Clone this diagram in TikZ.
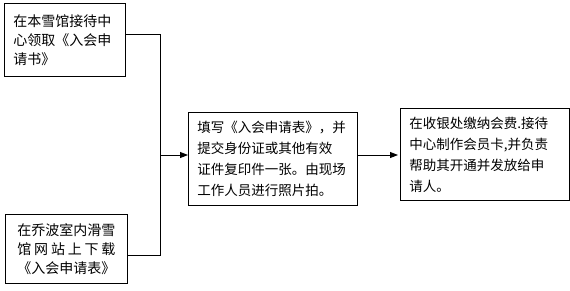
\documentclass[tikz,border=0pt]{standalone}
\usepackage{fontspec}
\usepackage{tikz}
\usetikzlibrary{positioning,calc}
\usetikzlibrary{arrows.meta}
\newfontfamily\cjk{Noto Sans CJK SC}
\tikzset{
	stepbox/.style={draw=black,line width=0.9pt,fill=white,anchor=north west,
		inner sep=0pt,align=left,font=\cjk\fontsize{14}{19}\selectfont},
	link/.style={draw=black,line width=0.9pt},
	arr/.style={link,-{Triangle[length=8pt,width=6pt]}},
}
\begin{document}
\begin{tikzpicture}[x=1pt,y=-1pt]
	\useasboundingbox (0,0) rectangle (570,290);
	\node[stepbox,minimum width=121pt,minimum height=73pt,text width=103pt] (apply) at (4,3)
		{在本雪馆接待中\\心领取《入会申\\请书》};
	\node[stepbox,minimum width=122pt,minimum height=69pt,text width=104pt,align=center] (web) at (5,214)
		{在乔波室内滑雪\\\makebox[98pt][s]{馆\hfil 网\hfil 站\hfil 上\hfil 下\hfil 载}\\《入会申请表》};
	\node[stepbox,minimum width=169pt,minimum height=93pt,text width=151pt,
		font=\cjk\fontsize{13.5}{21}\selectfont] (form) at (188,112)
		{填写《入会申请表》，并\\提交身份证或其他有效\\证件复印件一张。由现场\\工作人员进行照片拍。};
	\node[stepbox,minimum width=169pt,minimum height=92pt,text width=151pt,
		font=\cjk\fontsize{13.5}{21}\selectfont] (pay) at (400,108)
		{在收银处缴纳会费.接待\\中心制作会员卡,并负责\\帮助其开通并发放给申\\请人。};
	% join of the two ways in
	\coordinate (split) at (160,155);
	\draw[link] ([yshift=5.5pt]apply.east) -| (split);
	\draw[link] ([yshift=-6.5pt]web.east) -| (split);
	\draw[arr] (split) -- (form.west |- split);
	\draw[arr,shorten >=2pt] (form.east |- split) -- (pay.west |- split);
\end{tikzpicture}
\end{document}
